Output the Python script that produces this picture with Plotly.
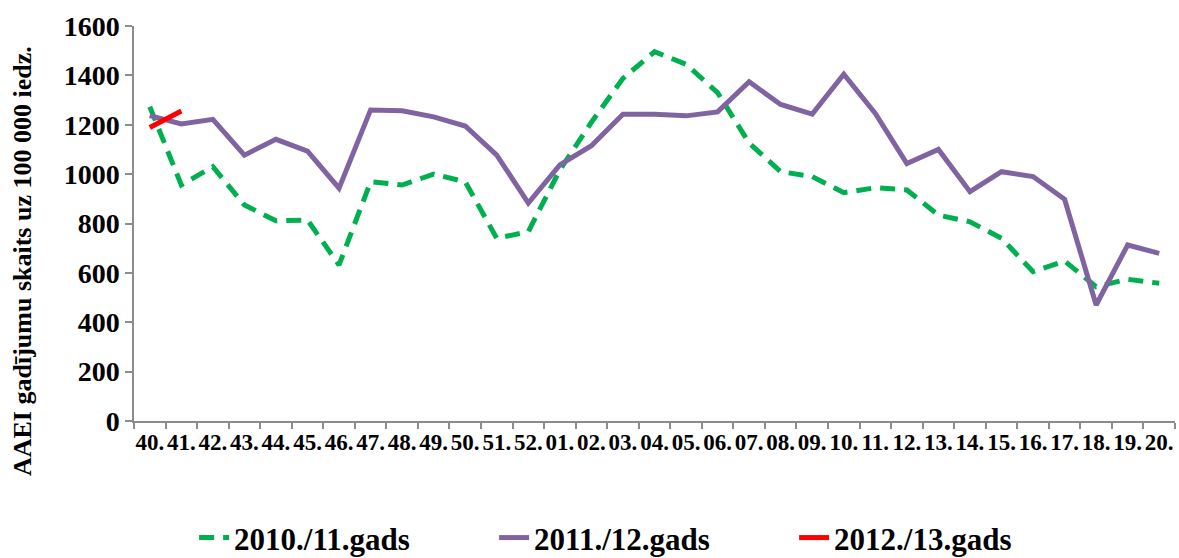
import plotly.graph_objects as go

weeks = ["40.", "41.", "42.", "43.", "44.", "45.", "46.", "47.", "48.", "49.", "50.", "51.", "52.",
         "01.", "02.", "03.", "04.", "05.", "06.", "07.", "08.", "09.", "10.", "11.", "12.", "13.",
         "14.", "15.", "16.", "17.", "18.", "19.", "20."]

s2010 = [1273, 956, 1030, 875, 811, 814, 632, 969, 956, 1000, 969, 740, 767,
         1017, 1210, 1388, 1496, 1445, 1330, 1126, 1010, 990, 925, 945, 936, 834,
         807, 740, 605, 648, 544, 574, 558]

s2011 = [1237, 1203, 1222, 1077, 1141, 1093, 943, 1260, 1257, 1232, 1195, 1077, 883,
         1037, 1115, 1243, 1243, 1236, 1252, 1374, 1282, 1243, 1405, 1246, 1043, 1100,
         929, 1010, 990, 898, 470, 713, 679]

s2012 = [1189, 1256]

names = ["2010./11.gads", "2011./12.gads", "2012./13.gads"]
colors = ["#00B050", "#8064A2", "#FF0000"]

FONT = "Liberation Serif"

fig = go.Figure()
fig.add_trace(go.Scatter(x=weeks, y=s2010, mode="lines", name=names[0],
                         line=dict(color=colors[0], width=5, dash="15px,9px")))
fig.add_trace(go.Scatter(x=weeks, y=s2011, mode="lines", name=names[1],
                         line=dict(color=colors[1], width=5)))
fig.add_trace(go.Scatter(x=weeks[:len(s2012)], y=s2012, mode="lines", name=names[2],
                         line=dict(color=colors[2], width=5)))

fig.update_layout(
    width=1179, height=558,
    margin=dict(l=134, r=4, t=26, b=137, autoexpand=False),
    paper_bgcolor="white", plot_bgcolor="white",
    font=dict(family=FONT, color="black", weight="bold"),
    showlegend=True,
    legend=dict(orientation="h", x=0.49, xanchor="center", y=-0.296, yanchor="middle",
                font=dict(family=FONT, size=31, color="black", weight="bold"),
                entrywidth=255, entrywidthmode="pixels",
                traceorder="normal"),
    xaxis=dict(type="category", categoryorder="array", categoryarray=weeks,
               range=[-0.5, len(weeks) - 0.5], automargin=False,
               showgrid=False, zeroline=False,
               showline=True, linecolor="#8C8C8C", linewidth=1.5,
               ticks="outside", tickson="boundaries", ticklen=6, tickcolor="#8C8C8C", tickwidth=1.5,
               tickangle=0, ticklabeloverflow="allow",
               tickfont=dict(family=FONT, size=23, color="black", weight="bold")),
    yaxis=dict(range=[0, 1600], tick0=0, dtick=200, automargin=False,
               showgrid=False, zeroline=False,
               showline=True, linecolor="#8C8C8C", linewidth=1.5,
               ticks="outside", ticklen=7, tickcolor="#8C8C8C", tickwidth=1.5,
               tickfont=dict(family=FONT, size=28, color="black", weight="bold")),
    annotations=[dict(text="AAEI gadījumu skaits uz 100 000 iedz.", textangle=-90,
                      xref="paper", yref="paper", x=0, y=0.405,
                      xanchor="center", yanchor="middle", xshift=-112,
                      showarrow=False,
                      font=dict(family=FONT, size=26, color="black", weight="bold"))],
)

fig.write_html("out.html", config={"displayModeBar": False},
               post_script="document.body.style.margin='0px';")
